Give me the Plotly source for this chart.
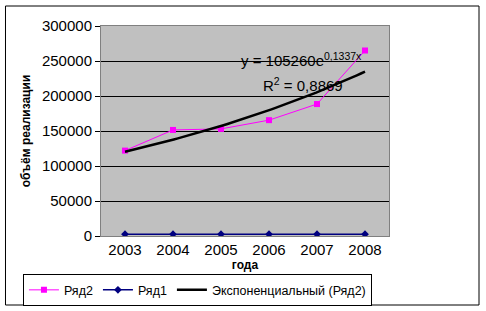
import numpy as np
import plotly.graph_objects as go

years = ["2003", "2004", "2005", "2006", "2007", "2008"]
x_idx = [1, 2, 3, 4, 5, 6]
ryad2 = [122000, 151500, 153000, 165500, 188500, 265000]
ryad1 = [2500, 2500, 2500, 2500, 2500, 2500]
trend_a = 105260
trend_b = 0.1337
r2_text = "0,8869"

FONT = "Arial, Liberation Sans, sans-serif"

xt = np.linspace(1, 6, 60)
yt = trend_a * np.exp(trend_b * xt)

fig = go.Figure()
fig.add_trace(go.Scatter(x=x_idx, y=ryad2, name="Ряд2", mode="lines+markers",
                         line=dict(color="#FF00FF", width=1),
                         marker=dict(symbol="square", size=6, color="#FF00FF")))
fig.add_trace(go.Scatter(x=x_idx, y=ryad1, name="Ряд1", mode="lines+markers",
                         line=dict(color="#000080", width=1.5),
                         marker=dict(symbol="diamond", size=6, color="#000080")))
fig.add_trace(go.Scatter(x=xt, y=yt, name="Экспоненциальный (Ряд2)", mode="lines",
                         line=dict(color="black", width=2.5)))

fig.update_layout(
    width=486, height=311,
    margin=dict(l=101, r=97, t=26, b=75, autoexpand=False),
    paper_bgcolor="white", plot_bgcolor="#C0C0C0",
    font=dict(family=FONT, size=14, color="black"),
    showlegend=True,
    legend=dict(orientation="h", x=-0.271, y=-0.182, xanchor="left", yanchor="top",
                bordercolor="black", borderwidth=1, bgcolor="white",
                font=dict(size=12.5, family=FONT), itemwidth=30, tracegroupgap=0),
    xaxis=dict(range=[0.5, 6.5], tickvals=x_idx, ticktext=years, automargin=False,
               showgrid=False, zeroline=False, showline=True, linecolor="#808080",
               mirror=True, ticks="", ticklabelstandoff=0, tickfont=dict(size=15),
               title=dict(text="<b>года</b>", font=dict(size=12), standoff=0)),
    yaxis=dict(range=[0, 300000], dtick=50000, tickformat="d", showgrid=True,
               automargin=False,
               gridcolor="black", gridwidth=1, zeroline=False, showline=True,
               linecolor="#808080", mirror=True, ticks="outside", ticklen=5,
               tickcolor="black", tickfont=dict(size=15),
               title=dict(text="<b>объём реализации</b>", font=dict(size=12), standoff=8)),
    shapes=[dict(type="rect", xref="paper", yref="paper",
                 x0=-0.3316, x1=1.3125, y0=-0.3286, y1=1.0952,
                 line=dict(color="black", width=1), fillcolor="rgba(0,0,0,0)")],
    annotations=[
        dict(text="y = 105260e<sup>0,1337x</sup>", xref="paper", yref="paper",
             x=(239 - 101) / 288, y=(236 - 60) / 210, xanchor="left", yanchor="middle",
             showarrow=False, font=dict(size=15)),
        dict(text="R<sup>2</sup> = " + r2_text, xref="paper", yref="paper",
             x=(261 - 101) / 288, y=(236 - 84) / 210, xanchor="left", yanchor="middle",
             showarrow=False, font=dict(size=15)),
    ],
)
fig.write_html("out.html")
